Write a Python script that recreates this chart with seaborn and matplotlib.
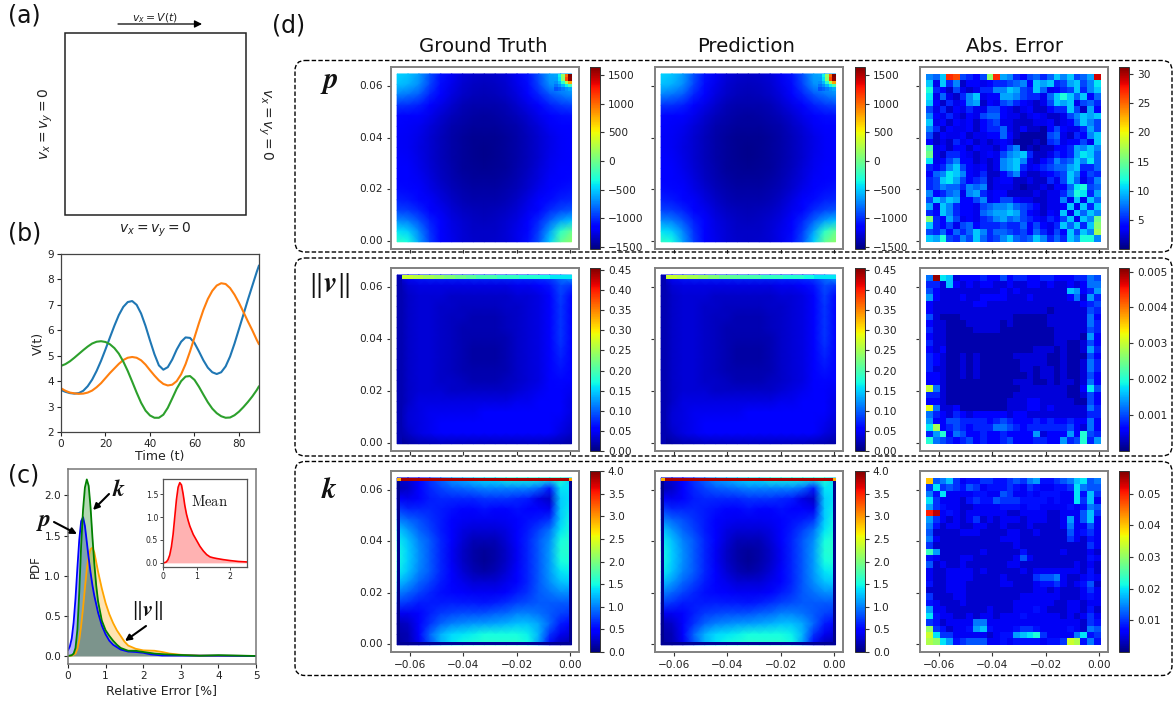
import numpy as np
import seaborn as sns
from matplotlib import pyplot as plt
from matplotlib.patches import FancyBboxPatch, Rectangle

W, H = 1175, 703

# (b) inflow velocity curves
t_read = [0, 2, 4, 6, 8, 10, 12, 14, 16, 18, 20, 22, 24, 26, 28, 30, 32, 34, 36, 38, 40, 42, 44, 46, 48, 50, 52, 54, 56, 58, 60, 62, 64, 66, 68, 70, 72, 74, 76, 78, 80, 82, 84, 86, 88, 89]
v_blue = [3.65, 3.58, 3.53, 3.51, 3.53, 3.62, 3.8, 4.06, 4.4, 4.8, 5.25, 5.72, 6.18, 6.6, 6.92, 7.11, 7.15, 7.0, 6.66, 6.17, 5.6, 5.06, 4.62, 4.45, 4.55, 4.85, 5.24, 5.55, 5.72, 5.7, 5.5, 5.17, 4.82, 4.53, 4.35, 4.28, 4.35, 4.58, 4.97, 5.48, 6.05, 6.62, 7.2, 7.75, 8.3, 8.55]
v_orange = [3.72, 3.62, 3.55, 3.52, 3.5, 3.51, 3.55, 3.63, 3.76, 3.92, 4.12, 4.32, 4.5, 4.68, 4.83, 4.92, 4.95, 4.92, 4.82, 4.65, 4.43, 4.22, 4.03, 3.89, 3.83, 3.86, 4.0, 4.27, 4.67, 5.17, 5.72, 6.28, 6.8, 7.23, 7.55, 7.76, 7.85, 7.82, 7.66, 7.4, 7.08, 6.72, 6.35, 6.0, 5.62, 5.45]
v_green = [4.6, 4.67, 4.78, 4.92, 5.07, 5.22, 5.36, 5.48, 5.55, 5.57, 5.54, 5.45, 5.3, 5.08, 4.77, 4.4, 3.98, 3.55, 3.15, 2.84, 2.65, 2.56, 2.56, 2.68, 2.95, 3.32, 3.7, 4.0, 4.18, 4.2, 4.05, 3.78, 3.47, 3.17, 2.92, 2.74, 2.62, 2.56, 2.57, 2.66, 2.8, 2.98, 3.18, 3.4, 3.65, 3.8]

# (c) error densities
err_p = [0, .05, .1, .15, .2, .25, .3, .35, .4, .45, .5, .55, .6, .65, .7, .8, .9, 1.0, 1.1, 1.2, 1.4, 1.6, 1.8, 2, 2.2, 2.5, 3, 4, 5]
pdf_p = [.07, .12, .22, .42, .72, 1.1, 1.45, 1.68, 1.73, 1.62, 1.42, 1.22, 1.04, .88, .75, .54, .38, .27, .19, .14, .08, .055, .05, .04, .02, .006, .005, .003, 0]
err_k = [0, .1, .15, .2, .25, .3, .35, .4, .45, .5, .55, .6, .65, .7, .75, .8, .9, 1.0, 1.1, 1.2, 1.3, 1.4, 1.6, 1.8, 2, 2.3, 2.6, 3, 3.5, 4, 5]
pdf_k = [0, .01, .03, .1, .33, .8, 1.38, 1.82, 2.1, 2.2, 2.12, 1.85, 1.48, 1.15, .88, .68, .44, .32, .25, .19, .14, .1, .065, .065, .05, .03, .02, .012, .003, .01, 0]
err_v = [0, .1, .2, .25, .3, .35, .4, .45, .5, .55, .6, .65, .7, .75, .8, .9, 1.0, 1.1, 1.2, 1.3, 1.4, 1.5, 1.6, 1.8, 2, 2.3, 2.5, 2.7, 3, 3.5, 5]
pdf_v = [0, .005, .03, .09, .2, .38, .6, .85, 1.08, 1.25, 1.33, 1.35, 1.29, 1.17, 1.05, .84, .66, .52, .41, .32, .25, .18, .13, .09, .07, .065, .05, .03, .015, .005, 0]
err_mean = [0, .05, .1, .15, .2, .25, .3, .35, .4, .45, .5, .55, .6, .65, .7, .75, .8, .9, 1, 1.1, 1.2, 1.3, 1.4, 1.5, 1.6, 1.8, 2, 2.25, 2.5]
pdf_mean = [0, .005, .02, .07, .17, .35, .62, 1.0, 1.38, 1.65, 1.75, 1.7, 1.5, 1.25, 1.06, .92, .8, .62, .49, .36, .26, .18, .13, .11, .095, .07, .05, .03, .02]

# (d) fields, read on a coarse grid, top row first
p_truth = [
    [-470, -520, -650, -880, -1080, -1210, -1280, -1320, -1330, -1320, -1280, -1210, -1080, -880, -640, -620, -600],
    [-540, -590, -700, -920, -1110, -1230, -1300, -1340, -1350, -1340, -1300, -1230, -1110, -920, -680, -650, -620],
    [-740, -780, -860, -1030, -1170, -1270, -1330, -1370, -1380, -1370, -1330, -1270, -1170, -1030, -880, -780, -700],
    [-980, -1000, -1050, -1150, -1240, -1320, -1380, -1400, -1410, -1400, -1380, -1320, -1240, -1150, -1040, -970, -930],
    [-1120, -1130, -1170, -1235, -1305, -1370, -1410, -1430, -1440, -1430, -1410, -1370, -1305, -1235, -1165, -1110, -1090],
    [-1180, -1190, -1220, -1280, -1340, -1400, -1430, -1450, -1460, -1450, -1430, -1400, -1340, -1280, -1210, -1170, -1150],
    [-1190, -1205, -1245, -1300, -1365, -1415, -1455, -1475, -1485, -1475, -1455, -1415, -1365, -1300, -1240, -1195, -1175],
    [-1190, -1205, -1250, -1310, -1370, -1420, -1460, -1485, -1495, -1485, -1460, -1420, -1370, -1310, -1245, -1195, -1170],
    [-1180, -1195, -1240, -1300, -1365, -1420, -1460, -1480, -1490, -1480, -1460, -1420, -1365, -1300, -1235, -1190, -1165],
    [-1160, -1180, -1225, -1290, -1355, -1410, -1450, -1470, -1480, -1470, -1450, -1410, -1355, -1285, -1220, -1170, -1150],
    [-1140, -1160, -1205, -1270, -1340, -1390, -1430, -1450, -1460, -1450, -1430, -1390, -1335, -1265, -1195, -1145, -1120],
    [-1110, -1125, -1170, -1240, -1310, -1365, -1400, -1425, -1430, -1425, -1400, -1365, -1305, -1230, -1160, -1105, -1080],
    [-1050, -1070, -1120, -1190, -1265, -1330, -1375, -1400, -1410, -1400, -1375, -1325, -1260, -1185, -1110, -1050, -1020],
    [-930, -960, -1030, -1130, -1220, -1290, -1340, -1365, -1375, -1365, -1340, -1290, -1220, -1120, -1010, -920, -870],
    [-700, -750, -880, -1040, -1170, -1260, -1310, -1340, -1350, -1340, -1310, -1255, -1160, -1020, -840, -650, -540],
    [-420, -500, -720, -980, -1140, -1240, -1295, -1325, -1335, -1325, -1295, -1235, -1120, -950, -640, -250, -40],
    [-240, -340, -640, -950, -1130, -1230, -1290, -1320, -1330, -1320, -1290, -1225, -1100, -880, -500, -60, 130],
]
# hot corner of the pressure field, finer cells
p_corner = [
    [-620, -380, 150, 1000, 1640],
    [-650, -420, 100, 1100, 1600],
    [-700, -560, -250, 250, 800],
    [-780, -700, -560, -380, -150],
    [-880, -830, -760, -680, -620],
]
v_truth = [
    [.03, .06, .07, .075, .075, .075, .075, .08, .08, .08, .08, .08, .08, .085, .09, .11, .14],
    [.015, .035, .04, .04, .04, .04, .04, .04, .04, .04, .04, .045, .045, .05, .065, .09, .08],
    [.015, .03, .035, .035, .035, .03, .03, .03, .03, .03, .03, .035, .035, .04, .05, .085, .06],
    [.015, .03, .035, .035, .03, .03, .025, .025, .025, .025, .03, .03, .035, .04, .05, .08, .055],
    [.015, .03, .035, .035, .03, .025, .025, .02, .02, .02, .025, .03, .035, .04, .05, .08, .055],
    [.015, .03, .035, .035, .03, .025, .02, .02, .02, .02, .025, .03, .035, .04, .05, .08, .055],
    [.015, .03, .035, .035, .03, .025, .02, .018, .018, .018, .02, .03, .035, .04, .05, .08, .055],
    [.015, .03, .035, .035, .03, .025, .02, .015, .015, .015, .02, .03, .035, .04, .05, .075, .05],
    [.015, .03, .035, .035, .03, .025, .02, .015, .015, .015, .02, .03, .035, .04, .05, .07, .05],
    [.015, .03, .035, .035, .03, .025, .02, .018, .018, .018, .02, .03, .035, .04, .05, .065, .05],
    [.015, .03, .035, .035, .03, .03, .025, .02, .02, .02, .025, .03, .035, .04, .05, .06, .05],
    [.015, .03, .035, .035, .035, .03, .03, .03, .03, .03, .03, .035, .04, .045, .05, .055, .045],
    [.015, .03, .04, .04, .04, .04, .04, .04, .04, .04, .04, .045, .045, .05, .05, .05, .04],
    [.015, .035, .04, .045, .045, .045, .045, .045, .05, .05, .05, .05, .05, .05, .05, .05, .04],
    [.015, .035, .04, .045, .05, .05, .05, .05, .05, .055, .055, .055, .055, .055, .05, .045, .035],
    [.015, .03, .04, .045, .05, .05, .05, .05, .055, .055, .055, .055, .055, .05, .05, .04, .03],
    [.01, .015, .02, .022, .025, .025, .025, .025, .025, .025, .025, .025, .025, .025, .022, .02, .015],
]
k_truth = [
    [.25, .3, .5, .7, .9, 1.1, 1.2, 1.3, 1.4, 1.4, 1.5, 1.5, 1.5, 1.5, 1.5, 1.6, 1.3],
    [.2, .25, .45, .65, .75, .85, .9, .95, 1, 1, 1, 1, 1, .9, .6, 1.4, 1.4],
    [.45, .4, .5, .6, .65, .65, .65, .65, .7, .7, .7, .65, .6, .35, .25, 1.3, 1.4],
    [.75, .65, .65, .65, .6, .55, .5, .5, .55, .5, .5, .55, .5, .45, .4, 1.3, 1.45],
    [1.0, .9, .8, .7, .6, .5, .42, .4, .4, .4, .42, .5, .55, .6, .7, 1.3, 1.5],
    [1.3, 1.1, .9, .75, .6, .45, .35, .3, .3, .3, .35, .45, .6, .75, .95, 1.4, 1.55],
    [1.45, 1.25, 1.0, .85, .65, .45, .3, .2, .2, .2, .3, .45, .65, .85, 1.05, 1.5, 1.6],
    [1.5, 1.3, 1.05, .85, .65, .42, .26, .15, .1, .15, .26, .42, .65, .85, 1.1, 1.55, 1.6],
    [1.5, 1.3, 1.05, .85, .65, .42, .26, .15, .08, .15, .26, .42, .65, .85, 1.1, 1.5, 1.55],
    [1.45, 1.25, 1.0, .85, .65, .45, .3, .2, .15, .2, .3, .45, .65, .85, 1.1, 1.4, 1.45],
    [1.25, 1.1, .9, .75, .6, .5, .38, .3, .3, .3, .38, .5, .65, .85, 1.05, 1.25, 1.3],
    [1.0, .9, .75, .65, .55, .52, .45, .42, .42, .42, .5, .6, .7, .85, .95, 1.05, 1.05],
    [.75, .7, .6, .6, .6, .62, .6, .6, .58, .62, .68, .75, .8, .85, .85, .85, .85],
    [.4, .4, .5, .62, .72, .78, .8, .8, .82, .88, .92, 1, 1, .95, .85, .75, .7],
    [.2, .25, .5, .7, .9, 1, 1.05, 1.1, 1.12, 1.15, 1.2, 1.25, 1.25, 1.15, .9, .6, .5],
    [.15, .2, .5, .9, 1.2, 1.35, 1.4, 1.45, 1.5, 1.5, 1.5, 1.5, 1.45, 1.2, .7, .4, .3],
    [.1, .2, .4, .8, 1.2, 1.4, 1.5, 1.55, 1.6, 1.6, 1.6, 1.6, 1.5, 1.1, .5, .2, .15],
]
# thin lid row of the velocity field, left to right
v_lid = [.27, .26, .25, .24, .23, .22, .21, .2, .2, .19, .19, .18, .18, .17, .16, .16]

# absolute errors, one base 36 digit per cell, top row first
p_err_rows = [
    "87arq 6546g r9854 6757a 8a679t", "a3a58 24434 55678 4a9a5 69a68b",
    "c5426 32355 88a96 5a734 56a58a", "b3732 58a34 49986 5537a ca7a47",
    "a4253 48924 36754 3236a 9a3675", "63524 35336 64323 42245 5a6294",
    "84353 24367 74332 34322 368a9a", "a3424 34245 63322 23342 347a86",
    "85243 34245 57324 22146 433596", "62433 42334 47421 11167 32548a",
    "42325 34232 34311 12156 34463a", "e3424 42433 24681 21224 4598a8",
    "f3255 43234 3689a 52235 459ba7", "b3468 44232 389a8 32458 67a8b7",
    "5458a 64342 389a5 34567 79a557", "478ba 84352 24683 22345 6a8465",
    "56ab9 64562 34422 32253 6a7358", "56877 58782 33321 22324 47bc67",
    "84578 38953 44222 23233 58cb59", "6a8a9 44683 46643 32233 83a3a7",
    "93a85 44367 88976 54233 4a3a5a", "54a85 44378 99a96 43243 a3a7a8",
    "g5496 34356 89786 54354 6a3a8f", "a5463 67455 56557 46435 a7a5ag",
    "65747 57a85 77656 47536 4a6a8h", "a9c65 86a75 68a76 7a857 5a8cc8",
]
v_err_rows = [
    "6p982 33343 35344 33443 334465", "44283 23233 22322 33232 232366",
    "53222 22222 23232 22222 287347", "73222 32233 33222 32222 236274",
    "32222 22332 22222 22222 222345", "32222 22222 22222 22212 222254",
    "52111 22222 22211 11122 222263", "32211 12222 21211 11122 222264",
    "42211 11222 21111 11112 222254", "32211 11111 11111 11112 222173",
    "42211 11111 11111 11112 211253", "32311 11111 11111 12221 211274",
    "43211 21211 11122 22211 211153", "43211 21211 11112 22211 211264",
    "42211 21211 11112 21221 211264", "33211 21211 11111 21221 211253",
    "33211 11111 11122 21121 221263", "f6211 11111 11112 22222 211395",
    "44211 11111 11122 22222 211253", "33211 11111 11222 33222 221153",
    "g6223 11111 11222 33232 222264", "64324 32333 33233 22222 222244",
    "73355 44443 45433 34343 343363", "9e345 43444 66543 44444 453263",
    "47a36 53343 34333 37233 373a54", "a6543 45343 34533 34433 745a47",
]
k_err_rows = [
    "k6795 34455 44565 78445 679a67", "5a565 46534 44543 54334 45a766",
    "74a33 33443 36533 43444 33a495", "a5333 24544 65554 44434 33a593",
    "85433 22333 34443 44333 343476", "pr343 23333 33223 33322 333695",
    "85323 23523 23332 33322 383693", "74233 22332 23222 32222 373363",
    "62222 33322 22332 23222 263453", "73222 22222 23332 22222 253243",
    "52222 22222 22232 22222 222253", "c8222 22232 22224 22222 322232",
    "43222 33222 22236 32222 222243", "62322 32222 22332 22222 223232",
    "32233 33232 22223 23333 333242", "32233 33222 23222 25667 322343",
    "42233 32222 23322 23445 323462", "22233 32222 22222 23323 222353",
    "52223 32222 22223 33333 222343", "43222 32222 22233 33332 233233",
    "83322 22223 22233 34322 233242", "a4332 23233 23334 33333 232353",
    "54233 33773 33333 33333 333254", "f5423 34894 33345 54333 343276",
    "ha553 33332 34489 ab533 337a45", "gfa84 56663 34344 44344 5hg474",
]
p_err_unit, v_err_unit, k_err_unit = 1.0, 0.0002, 0.002

# colour limits and colourbar ticks
p_lim, v_lim, k_lim = (-1535, 1640), (0, 0.455), (0, 4.0)
p_ticks = [-1500, -1000, -500, 0, 500, 1000, 1500]
v_ticks = [0.0, 0.05, 0.10, 0.15, 0.20, 0.25, 0.30, 0.35, 0.40, 0.45]
k_ticks = [0.0, 0.5, 1.0, 1.5, 2.0, 2.5, 3.0, 3.5, 4.0]
p_err_lim, v_err_lim, k_err_lim = (0.0, 31.2), (0.0, 0.0051), (0.0, 0.0571)
p_err_ticks = [5, 10, 15, 20, 25, 30]
v_err_ticks = [0.001, 0.002, 0.003, 0.004, 0.005]
k_err_ticks = [0.01, 0.02, 0.03, 0.04, 0.05]
space_ticks = [-0.06, -0.04, -0.02, 0.00]
height_ticks = [0.00, 0.02, 0.04, 0.06]

# extent of the image and of the frame, in metres
img_x, img_y = (-0.0648, 0.0006), (-0.0004, 0.0648)
frame_x, frame_y = (-0.0671, 0.0034), (-0.0032, 0.0675)


def decode(rows, unit):
    return np.array([[int(c, 36) for c in r.replace(' ', '')] for r in rows]) * unit


def px_axes(left, top, right, bottom):
    return fig.add_axes([left / W, 1 - bottom / H, (right - left) / W, (bottom - top) / H])


def draw_field(left, top, bottom, cbar_left, values, lim, ticks, smooth, ylabels, xlabels):
    ax = px_axes(left, top, left + 188, bottom)
    cax = px_axes(cbar_left, top, cbar_left + 9.5, bottom)
    values = np.array(values)
    if smooth:
        sns.heatmap(values, ax=ax, cbar_ax=cax, cmap='jet', vmin=lim[0], vmax=lim[1],
                    cbar_kws={'ticks': ticks}, shading='gouraud')
        span = values.shape[0] - 1
    else:
        sns.heatmap(values, ax=ax, cbar_ax=cax, cmap='jet', vmin=lim[0], vmax=lim[1],
                    cbar_kws={'ticks': ticks})
        span = values.shape[0]

    to_col = lambda x: (x - img_x[0]) / (img_x[1] - img_x[0]) * span
    to_row = lambda y: (img_y[1] - y) / (img_y[1] - img_y[0]) * span
    ax.set_xlim(to_col(frame_x[0]), to_col(frame_x[1]))
    ax.set_ylim(to_row(frame_y[0]), to_row(frame_y[1]))
    ax.set_xticks([to_col(x) for x in space_ticks])
    ax.set_yticks([to_row(y) for y in height_ticks])
    ax.set_xticklabels([f'{x:.2f}'.replace('-', '\u2212') for x in space_ticks] if xlabels else [], rotation=0)
    ax.set_yticklabels([f'{y:.2f}' for y in height_ticks] if ylabels else [], rotation=0)
    ax.tick_params(labelsize=7.6, length=3, width=0.8, color='#333333', labelcolor='#222222', pad=3)
    for s in ax.spines.values():
        s.set_visible(True)
        s.set_color('#808080')
        s.set_linewidth(1.4)
    ax.set_facecolor('white')

    cb = ax.collections[0].colorbar
    cb.outline.set_linewidth(0.7)
    cb.outline.set_edgecolor('#333333')
    cax.tick_params(labelsize=7.6, length=3, width=0.8, color='#333333', labelcolor='#222222', pad=3)
    return ax


def edge_strip(ax, x_edges, y_edges, values, lim):
    ax.pcolormesh(x_edges, y_edges, values, cmap='jet', vmin=lim[0], vmax=lim[1])


sns.set_style('ticks')
plt.rcParams['font.family'] = ['DejaVu Sans']
plt.rcParams['mathtext.fontset'] = 'dejavusans'

fig = plt.figure(figsize=(W / 100, H / 100), dpi=100)

# (b)
ax_b = px_axes(61, 254, 259, 432)
for vv, col in [(v_blue, '#1f77b4'), (v_orange, '#ff7f0e'), (v_green, '#2ca02c')]:
    sns.lineplot(x=t_read, y=vv, color=col, linewidth=1.5, errorbar=None, ax=ax_b)
ax_b.set_xlim(0, 89)
ax_b.set_ylim(2, 9)
ax_b.set_xticks([0, 20, 40, 60, 80])
ax_b.set_yticks(range(2, 10))
ax_b.set_xlabel('Time (t)', fontsize=9, labelpad=1, color='#222222')
ax_b.set_ylabel('V(t)', fontsize=9, labelpad=2, color='#222222')
ax_b.tick_params(labelsize=7.6, length=3, width=0.8, pad=2, labelcolor='#222222')
for s in ax_b.spines.values():
    s.set_color('#444444')
    s.set_linewidth(0.9)

# (c)
ax_c = px_axes(68, 469, 256, 664)
for ee, pp, col in [(err_v, pdf_v, 'orange'), (err_p, pdf_p, 'blue'), (err_k, pdf_k, 'green')]:
    sns.lineplot(x=ee, y=pp, color=col, linewidth=1.3, errorbar=None, ax=ax_c)
    ax_c.fill_between(ee, pp, color=col, alpha=0.3, linewidth=0)
ax_c.set_xlim(0, 5)
ax_c.set_ylim(-0.10, 2.33)
ax_c.set_xticks([0, 1, 2, 3, 4, 5])
ax_c.set_yticks([0, 0.5, 1, 1.5, 2])
ax_c.set_yticklabels(['0.0', '0.5', '1.0', '1.5', '2.0'])
ax_c.set_xlabel('Relative Error [%]', fontsize=9, labelpad=2, color='#222222')
ax_c.set_ylabel('PDF', fontsize=8.5, labelpad=2, color='#222222')
ax_c.tick_params(labelsize=7.6, length=3, width=0.8, pad=2, labelcolor='#222222')
for s in ax_c.spines.values():
    s.set_color('#777777')
    s.set_linewidth(1.1)

ax_m = px_axes(163, 479, 247, 567)
sns.lineplot(x=err_mean, y=pdf_mean, color='red', linewidth=1.2, errorbar=None, ax=ax_m)
ax_m.fill_between(err_mean, pdf_mean, color='red', alpha=0.3, linewidth=0)
ax_m.set_xlim(0, 2.5)
ax_m.set_ylim(-0.09, 1.83)
ax_m.set_xticks([0, 1, 2])
ax_m.set_yticks([0, 0.5, 1, 1.5])
ax_m.set_yticklabels(['0.0', '0.5', '1.0', '1.5'])
ax_m.tick_params(labelsize=5.6, length=2, width=0.6, pad=1.5, labelcolor='#222222')
for s in ax_m.spines.values():
    s.set_color('#555555')
    s.set_linewidth(0.9)

# (d)
col_left = [391, 655, 920]
cbar_left = [590, 855, 1119]
rows = [
    (67, 249, [p_truth, p_truth, decode(p_err_rows, p_err_unit)], [p_lim, p_lim, p_err_lim], [p_ticks, p_ticks, p_err_ticks]),
    (268, 451, [v_truth, v_truth, decode(v_err_rows, v_err_unit)], [v_lim, v_lim, v_err_lim], [v_ticks, v_ticks, v_err_ticks]),
    (471, 652, [k_truth, k_truth, decode(k_err_rows, k_err_unit)], [k_lim, k_lim, k_err_lim], [k_ticks, k_ticks, k_err_ticks]),
]
for r, (top, bottom, fields, lims, ticks) in enumerate(rows):
    for c in range(3):
        ax = draw_field(col_left[c], top, bottom, cbar_left[c], fields[c], lims[c], ticks[c],
                        c < 2, c == 0, r == 2)
        if r == 0 and c < 2:
            edge_strip(ax, np.linspace(14.4, 16, 6), np.linspace(0, 1.6, 6), p_corner, p_lim)
        if r == 1 and c < 2:
            edge_strip(ax, np.linspace(0.45, 16, 17), [0, 0.42], [v_lid], v_lim)
            edge_strip(ax, [0, 0.45], [0, 16], [[0.02]], v_lim)
        if r == 2 and c < 2:
            edge_strip(ax, [0, 0.33, 15.75, 16], [0, 0.32], [[2.9, 3.85, 2.9]], k_lim)
            edge_strip(ax, [0, 0.3], [0.32, 16], [[0.05]], k_lim)
            edge_strip(ax, [15.8, 16], [0.32, 16], [[0.05]], k_lim)
            edge_strip(ax, [0, 16], [15.72, 16], [[0.08]], k_lim)

# overlay in pixel coordinates for the drawing, labels and dashed boxes
over = fig.add_axes([0, 0, 1, 1], zorder=10)
over.set_xlim(0, W)
over.set_ylim(H, 0)
over.axis('off')
over.patch.set_alpha(0)

for lab, x, y in [('(a)', 8, 15), ('(b)', 8, 234), ('(c)', 8, 476), ('(d)', 272, 26)]:
    over.text(x, y, lab, fontsize=17, ha='left', va='center', color='#111111')

over.add_patch(Rectangle((64.5, 33), 181.5, 181.5, fill=False, edgecolor='#222222', linewidth=1.1))
over.annotate('', xy=(202, 24), xytext=(118, 24),
              arrowprops=dict(arrowstyle='-|>', color='black', lw=0.9, mutation_scale=11, shrinkA=0, shrinkB=0))
over.text(155, 18.5, r'$v_x = V(t)$', fontsize=7.8, ha='center', va='center', color='#222222')
over.text(155, 230, r'$v_x = v_y = 0$', fontsize=10, ha='center', va='center', color='#222222')
over.text(46, 124, r'$v_x = v_y = 0$', fontsize=10, ha='center', va='center', rotation=90, color='#222222')
over.text(265, 124, r'$v_x = v_y = 0$', fontsize=10, ha='center', va='center', rotation=270, color='#222222')

for title, x in [('Ground Truth', 483), ('Prediction', 746), ('Abs. Error', 1015)]:
    over.text(x, 46, title, fontsize=14.2, ha='center', va='center', color='#111111')

for top, bottom in [(60.5, 252), (258, 456), (461.5, 675.5)]:
    over.add_patch(FancyBboxPatch((295, top), 877, bottom - top, boxstyle='round,pad=0,rounding_size=10',
                                  fill=False, edgecolor='black', linewidth=1.0, linestyle=(0, (3.2, 1.6))))

over.text(329, 82, r'$\mathbfit{p}$', fontsize=21, math_fontfamily='stix', ha='center', va='center', color='#111111')
over.text(329, 286, r'$\Vert\mathbfit{v}\Vert$', fontsize=21, math_fontfamily='stix', ha='center', va='center', color='#111111')
over.text(329, 490, r'$\mathbfit{k}$', fontsize=21, math_fontfamily='stix', ha='center', va='center', color='#111111')

over.text(44, 521, r'$\mathbfit{p}$', fontsize=17, math_fontfamily='stix', ha='center', va='center', color='#111111')
over.text(119, 489, r'$\mathbfit{k}$', fontsize=17, math_fontfamily='stix', ha='center', va='center', color='#111111')
over.text(147, 611, r'$\Vert\mathbfit{v}\Vert$', fontsize=16, math_fontfamily='stix', ha='center', va='center', color='#111111')
over.text(210, 501, r'$\mathrm{Mean}$', fontsize=10.5, math_fontfamily='cm', ha='center', va='center', color='#111111')

for start, end in [((54, 522), (77, 534)), ((109, 494), (93, 510)), ((146, 626), (125, 641))]:
    over.annotate('', xy=end, xytext=start,
                  arrowprops=dict(arrowstyle='-|>', color='black', lw=1.5, mutation_scale=9, shrinkA=0, shrinkB=0))

fig.savefig('out.png', dpi=100)
